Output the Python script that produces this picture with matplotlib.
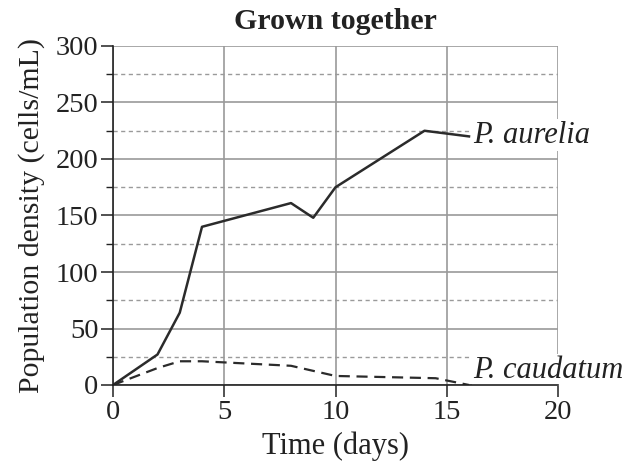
import matplotlib
matplotlib.use("Agg")
import matplotlib.pyplot as plt
from matplotlib.ticker import MultipleLocator

plt.rcParams['font.family'] = ['Liberation Serif', 'DejaVu Serif']

# Data
aurelia_days = [0, 2, 3, 4, 8, 9, 10, 14, 16]
aurelia_density = [0, 27, 64, 140, 161, 148, 175, 225, 220]
caudatum_days = [0, 2, 3, 4, 8, 10, 14.5, 16]
caudatum_density = [0, 15, 21, 21, 17, 8, 6, 0]

title = "Grown together"
xlabel = "Time (days)"
ylabel = "Population density (cells/mL)"
label_aurelia = "P. aurelia"
label_caudatum = "P. caudatum"

fig = plt.figure(figsize=(6.33, 4.75), dpi=100)
ax = fig.add_axes([113/633, 1-385/475, (558-113)/633, (385-46)/475])

ax.set_xlim(0, 20)
ax.set_ylim(0, 300)
ax.xaxis.set_major_locator(MultipleLocator(5))
ax.yaxis.set_major_locator(MultipleLocator(50))
ax.yaxis.set_minor_locator(MultipleLocator(25))

ax.set_axisbelow(True)
ax.grid(True, which='major', axis='both', color='#9a9a9a', linewidth=1.2, linestyle='-')
ax.grid(True, which='minor', axis='y', color='#9a9a9a', linewidth=1.0, linestyle=(0, (3, 2.5)))

for s in ['top', 'right']:
    ax.spines[s].set_visible(False)
for s in ['left', 'bottom']:
    ax.spines[s].set_color('#222222')
    ax.spines[s].set_linewidth(1.2)
    ax.spines[s].set_zorder(5)

ax.tick_params(axis='both', which='major', direction='out', length=8.5, width=1.1,
               color='#222222', labelsize=20.5, labelcolor='#222222', pad=2)
ax.tick_params(axis='y', which='minor', direction='out', length=5, width=1.0, color='#222222')

ax.plot(aurelia_days, aurelia_density, color='#2b2b2b', linewidth=1.8, zorder=3)
ax.plot(caudatum_days, caudatum_density, color='#2b2b2b', linewidth=1.6,
        linestyle=(0, (5, 3)), zorder=3)

ax.text(16.2, 221, label_aurelia, style='italic', fontsize=22, color='#222222',
        va='center', ha='left', zorder=4, clip_on=False,
        bbox=dict(facecolor='white', edgecolor='none', pad=1))
ax.text(16.2, 13, label_caudatum, style='italic', fontsize=22, color='#222222',
        va='center', ha='left', zorder=4, clip_on=False,
        bbox=dict(facecolor='white', edgecolor='none', pad=1))

ax.set_title(title, fontsize=21.5, fontweight='bold', color='#222222', pad=12)
ax.set_xlabel(xlabel, fontsize=22, color='#222222', labelpad=5)
ax.set_ylabel(ylabel, fontsize=21.5, color='#222222', labelpad=8)

fig.savefig("out.png", dpi=100)
